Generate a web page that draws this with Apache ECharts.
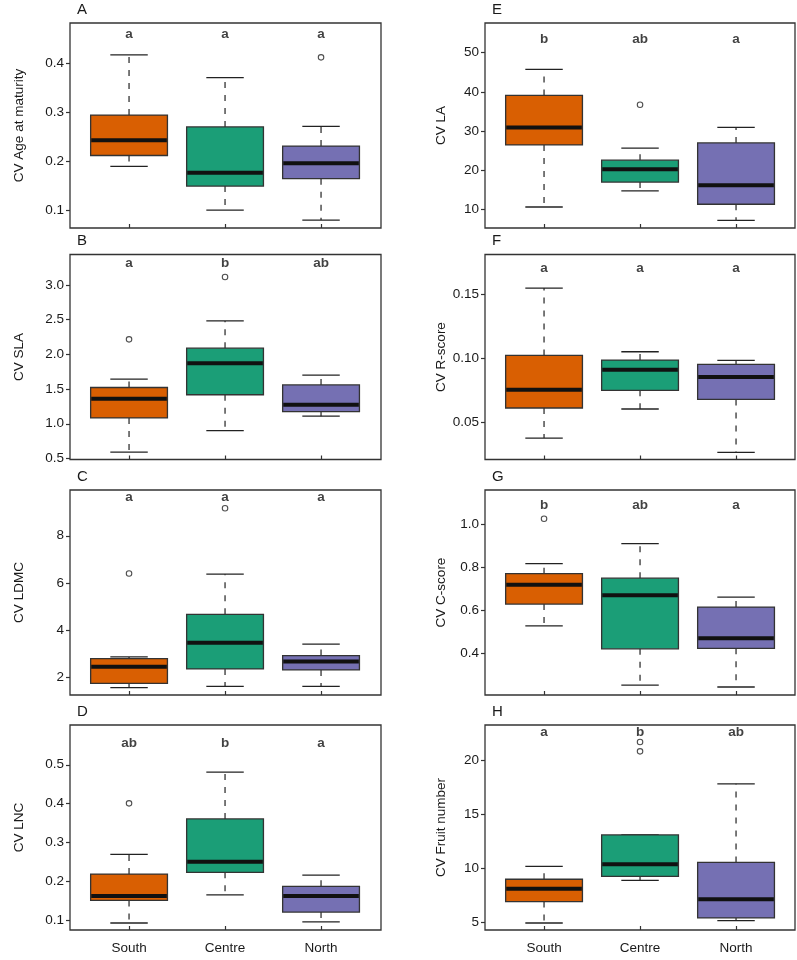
<!DOCTYPE html>
<html>
<head>
<meta charset="utf-8">
<script src="https://cdn.jsdelivr.net/npm/echarts@6/dist/echarts.min.js"></script>
<style>
html,body{margin:0;padding:0;background:#fff;}
#chart{width:797px;height:960px;}
</style>
</head>
<body>
<div id="chart"></div>
<script>
// ---------- DATA ----------
const categories = ['South', 'Centre', 'North'];
const panelLetters = ['A', 'B', 'C', 'D', 'E', 'F', 'G', 'H'];
const yTitles = ['CV Age at maturity', 'CV SLA', 'CV LDMC', 'CV LNC', 'CV LA', 'CV R-score', 'CV C-score', 'CV Fruit number'];

// box stats per region: [lower whisker, Q1, median, Q3, upper whisker]
const ageMaturity = [[0.190, 0.212, 0.243, 0.294, 0.416], [0.101, 0.150, 0.177, 0.270, 0.370], [0.081, 0.165, 0.196, 0.231, 0.271]];
const ageMaturityOut = [[], [], [0.411]];
const sla = [[0.59, 1.085, 1.36, 1.523, 1.643], [0.90, 1.418, 1.871, 2.09, 2.483], [1.11, 1.176, 1.276, 1.56, 1.70]];
const slaOut = [[2.217], [3.115], []];
const ldmc = [[1.55, 1.73, 2.43, 2.78, 2.85], [1.60, 2.34, 3.45, 4.66, 6.37], [1.60, 2.30, 2.66, 2.91, 3.40]];
const ldmcOut = [[6.40], [9.17], []];
const lnc = [[0.094, 0.152, 0.163, 0.2195, 0.270], [0.166, 0.224, 0.251, 0.361, 0.481], [0.097, 0.122, 0.163, 0.188, 0.217]];
const lncOut = [[0.401], [], []];
const la = [[10.7, 26.5, 30.95, 39.1, 45.7], [14.8, 17.05, 20.3, 22.6, 25.7], [7.3, 11.4, 16.2, 27.0, 30.95]];
const laOut = [[], [36.7], []];
const rScore = [[0.0374, 0.0609, 0.0752, 0.102, 0.1547], [0.0601, 0.0747, 0.0908, 0.0984, 0.1049], [0.0262, 0.0676, 0.0851, 0.095, 0.0981]];
const rScoreOut = [[], [], []];
const cScore = [[0.528, 0.629, 0.718, 0.770, 0.816], [0.253, 0.421, 0.670, 0.749, 0.909], [0.244, 0.4235, 0.470, 0.615, 0.661]];
const cScoreOut = [[1.0246], [], []];
const fruit = [[4.94, 6.92, 8.10, 8.99, 10.18], [8.88, 9.25, 10.39, 13.1, 13.1], [5.15, 5.41, 7.14, 10.55, 17.83]];
const fruitOut = [[], [21.70, 20.84], []];

// significance letters
const sigA = ['a', 'a', 'a'];
const sigB = ['a', 'b', 'ab'];
const sigC = ['a', 'a', 'a'];
const sigD = ['ab', 'b', 'a'];
const sigE = ['b', 'ab', 'a'];
const sigF = ['a', 'a', 'a'];
const sigG = ['b', 'ab', 'a'];
const sigH = ['a', 'b', 'ab'];

// y tick labels
const ticksA = [0.1, 0.2, 0.3, 0.4];
const ticksB = [0.5, 1.0, 1.5, 2.0, 2.5, 3.0];
const ticksC = [2, 4, 6, 8];
const ticksD = [0.1, 0.2, 0.3, 0.4, 0.5];
const ticksE = [10, 20, 30, 40, 50];
const ticksF = [0.05, 0.10, 0.15];
const ticksG = [0.4, 0.6, 0.8, 1.0];
const ticksH = [5, 10, 15, 20];

// ---------- LAYOUT / STYLE ----------
const boxes = [ageMaturity, sla, ldmc, lnc, la, rScore, cScore, fruit];
const outliers = [ageMaturityOut, slaOut, ldmcOut, lncOut, laOut, rScoreOut, cScoreOut, fruitOut];
const sigs = [sigA, sigB, sigC, sigD, sigE, sigF, sigG, sigH];
const ticks = [ticksA, ticksB, ticksC, ticksD, ticksE, ticksF, ticksG, ticksH];
const decimals = [1, 1, 0, 1, 0, 2, 1, 0];
const yRange = [[0.0649, 0.4807], [0.485, 3.44], [1.234, 9.945], [0.076, 0.602],
                [5.35, 57.52], [0.0206, 0.181], [0.207, 1.158], [4.29, 23.28]];
const letterLevel = [0.458, 3.307, 9.647, 0.554, 53.3, 0.1702, 1.088, 22.6];
const palette = ['#D95F02', '#1B9E77', '#7570B3'];
const colLeft = [70, 485];
const colWidth = [311, 310];
const rowTop = [23, 254.5, 490, 725];
const rowHeight = 205;
const nameGaps = [44, 37];
const FONT = '"Liberation Sans", Arial, Helvetica, sans-serif';
const FS = 13.5;

function renderBox(params, api) {
  const x = api.value(0);
  const low = api.coord([x, api.value(1)]);
  const q1 = api.coord([x, api.value(2)]);
  const med = api.coord([x, api.value(3)]);
  const q3 = api.coord([x, api.value(4)]);
  const high = api.coord([x, api.value(5)]);
  const bw = api.size([1, 0])[0];
  const hw = bw * 0.4, cw = bw * 0.195;
  const cx = med[0];
  const color = palette[params.dataIndex % palette.length];
  const dash = {stroke: '#222', lineWidth: 1.2, lineDash: [6, 7]};
  const solid = {stroke: '#222', lineWidth: 1.3};
  return {
    type: 'group',
    children: [
      {type: 'line', shape: {x1: cx, y1: q3[1], x2: cx, y2: high[1]}, style: dash},
      {type: 'line', shape: {x1: cx, y1: q1[1], x2: cx, y2: low[1]}, style: dash},
      {type: 'line', shape: {x1: cx - cw, y1: high[1], x2: cx + cw, y2: high[1]}, style: solid},
      {type: 'line', shape: {x1: cx - cw, y1: low[1], x2: cx + cw, y2: low[1]}, style: solid},
      {type: 'rect', shape: {x: cx - hw, y: q3[1], width: 2 * hw, height: q1[1] - q3[1]},
        style: {fill: color, stroke: '#333', lineWidth: 1.3}},
      {type: 'line', shape: {x1: cx - hw + 0.6, y1: med[1], x2: cx + hw - 0.6, y2: med[1]},
        style: {stroke: '#111', lineWidth: 4}}
    ]
  };
}

const grid = [], xAxis = [], yAxis = [], series = [], title = [];
for (let p = 0; p < 8; p++) {
  const col = Math.floor(p / 4), row = p % 4;
  grid.push({
    left: colLeft[col], top: rowTop[row], width: colWidth[col], height: rowHeight,
    show: true, borderColor: '#333', borderWidth: 1.3, backgroundColor: 'transparent'
  });
  title.push({
    text: panelLetters[p], left: colLeft[col] + 7, top: rowTop[row] - 21, padding: 0,
    textStyle: {fontFamily: FONT, fontSize: 15, fontWeight: 'normal', color: '#1a1a1a'}
  });
  xAxis.push({
    type: 'value', gridIndex: p, min: 0.385, max: 0.385 + colWidth[col] / 96,
    axisLine: {show: false},
    splitLine: {show: false},
    axisTick: {show: true, inside: true, length: 4, customValues: [1, 2, 3], lineStyle: {color: '#333', width: 1.2}},
    axisLabel: {
      show: row === 3, customValues: [1, 2, 3], margin: 11,
      formatter: v => categories[Math.round(v) - 1] || '',
      fontFamily: FONT, fontSize: FS, color: '#1a1a1a'
    }
  });
  const dec = decimals[p];
  yAxis.push({
    type: 'value', gridIndex: p, min: yRange[p][0], max: yRange[p][1],
    axisLine: {show: false},
    splitLine: {show: false},
    axisTick: {show: true, inside: false, length: 4, customValues: ticks[p], lineStyle: {color: '#333', width: 1.2}},
    axisLabel: {
      customValues: ticks[p], margin: 6,
      formatter: v => Number(v).toFixed(dec),
      fontFamily: FONT, fontSize: FS, color: '#1a1a1a'
    },
    name: yTitles[p], nameLocation: 'middle', nameGap: nameGaps[col],
    nameTextStyle: {fontFamily: FONT, fontSize: FS, color: '#1a1a1a'}
  });
  series.push({
    type: 'custom', xAxisIndex: p, yAxisIndex: p,
    renderItem: renderBox,
    encode: {x: 0, y: [1, 2, 3, 4, 5]},
    data: boxes[p].map((b, i) => [i + 1].concat(b)),
    z: 2
  });
  const outData = [];
  outliers[p].forEach((arr, i) => arr.forEach(v => outData.push([i + 1, v])));
  series.push({
    type: 'scatter', xAxisIndex: p, yAxisIndex: p,
    symbol: 'circle', symbolSize: 5.5,
    itemStyle: {color: '#fff', borderColor: '#222', borderWidth: 1.1},
    data: outData, z: 3
  });
  series.push({
    type: 'scatter', xAxisIndex: p, yAxisIndex: p,
    symbolSize: 0,
    data: sigs[p].map((s, i) => ({value: [i + 1, letterLevel[p]], name: s})),
    label: {
      show: true, position: 'inside', formatter: d => d.name,
      fontFamily: FONT, fontSize: FS, fontWeight: 'bold', color: '#111'
    },
    z: 4
  });
}

const chart = echarts.init(document.getElementById('chart'), null, {renderer: 'canvas'});
chart.setOption({
  animation: false,
  backgroundColor: '#fff',
  title: title, grid: grid, xAxis: xAxis, yAxis: yAxis, series: series
});
</script>
</body>
</html>
